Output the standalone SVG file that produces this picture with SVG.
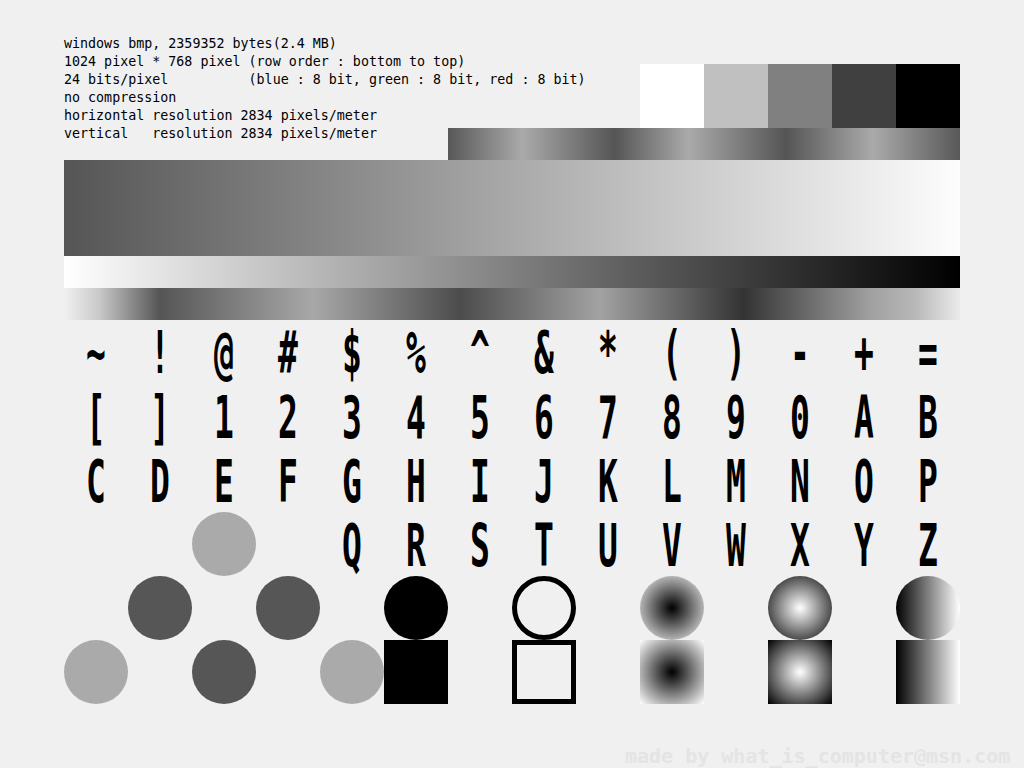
<svg xmlns="http://www.w3.org/2000/svg" width="1024" height="768" viewBox="0 0 1024 768">
<style>
.hdr{font-family:"DejaVu Sans Mono","Liberation Mono",monospace;font-size:13.33px;fill:#000;white-space:pre}
.ch{font-family:"DejaVu Sans Mono","Liberation Mono",monospace;font-weight:bold;font-size:33px;fill:#000;text-anchor:middle}
.wm{font-family:"DejaVu Sans Mono","Liberation Mono",monospace;font-weight:bold;font-size:20px;fill:#E4E4E4}
.lc{fill:#AAAAAA}
.dc{fill:#565656}
</style>
<defs>
<linearGradient id="stripeTop" gradientUnits="userSpaceOnUse" x1="448" y1="0" x2="960" y2="0">
<stop offset="0" stop-color="#585858"/>
<stop offset="0.145" stop-color="#AAAAAA"/>
<stop offset="0.325" stop-color="#555555"/>
<stop offset="0.47" stop-color="#AAAAAA"/>
<stop offset="0.66" stop-color="#555555"/>
<stop offset="0.83" stop-color="#AAAAAA"/>
<stop offset="1" stop-color="#585858"/>
</linearGradient>
<linearGradient id="bigGrad" gradientUnits="userSpaceOnUse" x1="64" y1="0" x2="960" y2="0">
<stop offset="0" stop-color="#555555"/>
<stop offset="1" stop-color="#FDFDFD"/>
</linearGradient>
<linearGradient id="wbGrad" gradientUnits="userSpaceOnUse" x1="64" y1="0" x2="960" y2="0">
<stop offset="0" stop-color="#FFFFFF"/>
<stop offset="1" stop-color="#000000"/>
</linearGradient>
<linearGradient id="multiGrad" gradientUnits="userSpaceOnUse" x1="64" y1="0" x2="960" y2="0">
<stop offset="0" stop-color="#F0F0F0"/>
<stop offset="0.04" stop-color="#C8C8C8"/>
<stop offset="0.107" stop-color="#555555"/>
<stop offset="0.278" stop-color="#A8A8A8"/>
<stop offset="0.442" stop-color="#4C4C4C"/>
<stop offset="0.598" stop-color="#A2A2A2"/>
<stop offset="0.758" stop-color="#333333"/>
<stop offset="0.90" stop-color="#A0A0A0"/>
<stop offset="0.95" stop-color="#B8B8B8"/>
<stop offset="1" stop-color="#EAEAEA"/>
</linearGradient>
<radialGradient id="rdC" gradientUnits="userSpaceOnUse" cx="672" cy="608" r="45.25">
<stop offset="0" stop-color="#000"/><stop offset="1" stop-color="#FFF"/>
</radialGradient>
<radialGradient id="rdS" gradientUnits="userSpaceOnUse" cx="672" cy="672" r="45.25">
<stop offset="0" stop-color="#000"/><stop offset="1" stop-color="#FFF"/>
</radialGradient>
<radialGradient id="rlC" gradientUnits="userSpaceOnUse" cx="800" cy="608" r="45.25">
<stop offset="0" stop-color="#FFF"/><stop offset="1" stop-color="#000"/>
</radialGradient>
<radialGradient id="rlS" gradientUnits="userSpaceOnUse" cx="800" cy="672" r="45.25">
<stop offset="0" stop-color="#FFF"/><stop offset="1" stop-color="#000"/>
</radialGradient>
<linearGradient id="lin" gradientUnits="userSpaceOnUse" x1="896" y1="0" x2="960" y2="0">
<stop offset="0" stop-color="#000"/><stop offset="1" stop-color="#FFF"/>
</linearGradient>
</defs>

<rect x="0" y="0" width="1024" height="768" fill="#F0F0F0"/>

<g id="header">
<text class="hdr" x="64" y="48">windows bmp, 2359352 bytes(2.4 MB)</text>
<text class="hdr" x="64" y="66">1024 pixel * 768 pixel (row order : bottom to top)</text>
<text class="hdr" x="64" y="84" xml:space="preserve">24 bits/pixel          (blue : 8 bit, green : 8 bit, red : 8 bit)</text>
<text class="hdr" x="64" y="102">no compression</text>
<text class="hdr" x="64" y="120">horizontal resolution 2834 pixels/meter</text>
<text class="hdr" x="64" y="138" xml:space="preserve">vertical   resolution 2834 pixels/meter</text>
</g>

<g id="swatches">
<rect x="640" y="64" width="64" height="64" fill="#FFFFFF"/>
<rect x="704" y="64" width="64" height="64" fill="#C0C0C0"/>
<rect x="768" y="64" width="64" height="64" fill="#808080"/>
<rect x="832" y="64" width="64" height="64" fill="#404040"/>
<rect x="896" y="64" width="64" height="64" fill="#000000"/>
</g>

<g id="gradients">
<rect x="448" y="128" width="512" height="32" fill="url(#stripeTop)"/>
<rect x="64" y="160" width="896" height="96" fill="url(#bigGrad)"/>
<rect x="64" y="256" width="896" height="32" fill="url(#wbGrad)"/>
<rect x="64" y="288" width="896" height="32" fill="url(#multiGrad)"/>
</g>

<g id="chars">
<g transform="translate(0,373) scale(1,1.8)">
<text class="ch" x="96" y="0">~</text>
<text class="ch" x="160" y="0">!</text>
<text class="ch" x="224" y="0">@</text>
<text class="ch" x="288" y="0">#</text>
<text class="ch" x="352" y="0">$</text>
<text class="ch" x="416" y="0">%</text>
<text class="ch" x="480" y="0">^</text>
<text class="ch" x="544" y="0">&amp;</text>
<text class="ch" x="608" y="0">*</text>
<text class="ch" x="672" y="0">(</text>
<text class="ch" x="736" y="0">)</text>
<text class="ch" x="800" y="0">-</text>
<text class="ch" x="864" y="0">+</text>
<text class="ch" x="928" y="0">=</text>
</g>
<g transform="translate(0,438) scale(1,1.8)">
<text class="ch" x="96" y="0">[</text>
<text class="ch" x="160" y="0">]</text>
<text class="ch" x="224" y="0">1</text>
<text class="ch" x="288" y="0">2</text>
<text class="ch" x="352" y="0">3</text>
<text class="ch" x="416" y="0">4</text>
<text class="ch" x="480" y="0">5</text>
<text class="ch" x="544" y="0">6</text>
<text class="ch" x="608" y="0">7</text>
<text class="ch" x="672" y="0">8</text>
<text class="ch" x="736" y="0">9</text>
<text class="ch" x="800" y="0">0</text>
<text class="ch" x="864" y="0">A</text>
<text class="ch" x="928" y="0">B</text>
</g>
<g transform="translate(0,502) scale(1,1.8)">
<text class="ch" x="96" y="0">C</text>
<text class="ch" x="160" y="0">D</text>
<text class="ch" x="224" y="0">E</text>
<text class="ch" x="288" y="0">F</text>
<text class="ch" x="352" y="0">G</text>
<text class="ch" x="416" y="0">H</text>
<text class="ch" x="480" y="0">I</text>
<text class="ch" x="544" y="0">J</text>
<text class="ch" x="608" y="0">K</text>
<text class="ch" x="672" y="0">L</text>
<text class="ch" x="736" y="0">M</text>
<text class="ch" x="800" y="0">N</text>
<text class="ch" x="864" y="0">O</text>
<text class="ch" x="928" y="0">P</text>
</g>
<g transform="translate(0,566) scale(1,1.8)">
<text class="ch" x="352" y="0">Q</text>
<text class="ch" x="416" y="0">R</text>
<text class="ch" x="480" y="0">S</text>
<text class="ch" x="544" y="0">T</text>
<text class="ch" x="608" y="0">U</text>
<text class="ch" x="672" y="0">V</text>
<text class="ch" x="736" y="0">W</text>
<text class="ch" x="800" y="0">X</text>
<text class="ch" x="864" y="0">Y</text>
<text class="ch" x="928" y="0">Z</text>
</g>
</g>

<g id="circles">
<circle class="lc" cx="224" cy="544" r="32"/>
<circle class="dc" cx="160" cy="608" r="32"/>
<circle class="dc" cx="288" cy="608" r="32"/>
<circle class="lc" cx="96" cy="672" r="32"/>
<circle class="dc" cx="224" cy="672" r="32"/>
<circle class="lc" cx="352" cy="672" r="32"/>
</g>

<g id="shapes">
<circle cx="416" cy="608" r="32" fill="#000"/>
<rect x="384" y="640" width="64" height="64" fill="#000"/>
<circle cx="544" cy="608" r="29.5" fill="none" stroke="#000" stroke-width="5"/>
<rect x="514.5" y="642.5" width="59" height="59" fill="none" stroke="#000" stroke-width="5"/>
<circle cx="672" cy="608" r="32" fill="url(#rdC)"/>
<rect x="640" y="640" width="64" height="64" fill="url(#rdS)"/>
<circle cx="800" cy="608" r="32" fill="url(#rlC)"/>
<rect x="768" y="640" width="64" height="64" fill="url(#rlS)"/>
<circle cx="928" cy="608" r="32" fill="url(#lin)"/>
<rect x="896" y="640" width="64" height="64" fill="url(#lin)"/>
</g>

<text class="wm" x="625" y="763">made by what_is_computer@msn.com</text>
</svg>
